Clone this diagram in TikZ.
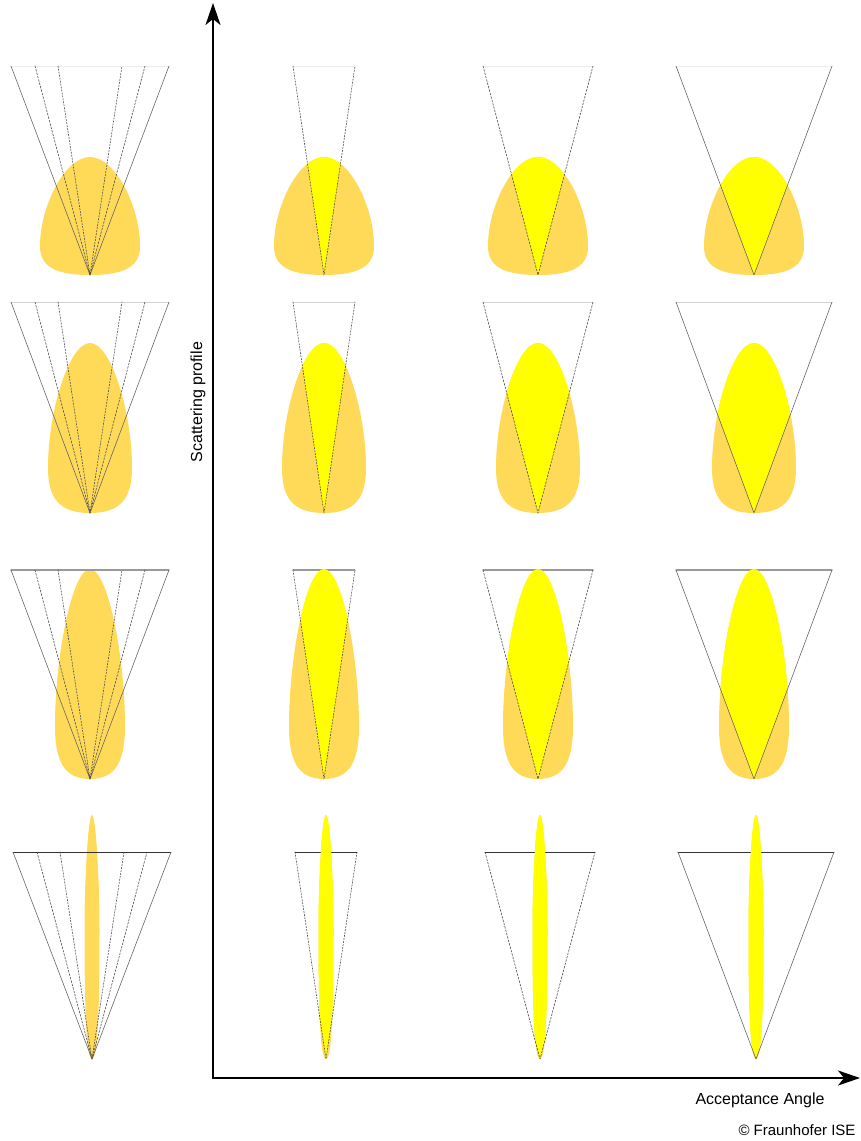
\documentclass[tikz,border=0pt]{standalone}
\usepackage{fontspec}
\setmainfont{Liberation Sans}
\usepackage{tikz}
\usetikzlibrary{arrows.meta}

\definecolor{lobeOrange}{RGB}{255,218,88}
\definecolor{lobeYellow}{RGB}{255,255,0}

% lobe outline, apex at origin, pointing up: #1 height, #2 half width, #3 height of widest point
\newcommand{\lobe}[3]{(0,0) .. controls ({0.75*#2},0) and (#2,{-0.35*#3}) .. (#2,-#3)
  .. controls (#2,{-#3-0.45*(#1-#3)}) and ({0.5*#2},-#1) .. (0,-#1)
  .. controls ({-0.5*#2},-#1) and (-#2,{-#3-0.45*(#1-#3)}) .. (-#2,-#3)
  .. controls (-#2,{-0.35*#3}) and ({-0.75*#2},0) .. cycle}

\begin{document}
\begin{tikzpicture}[x=1pt, y=-1pt, line cap=round, line join=round,
  lobe/.style={fill=lobeOrange},
  hit/.style={fill=lobeYellow},
  raySolid/.style={black!60, line width=0.6pt},
  rayDash/.style={black!70, line width=0.6pt, dash pattern=on 2pt off 1.5pt},
  rayDot/.style={black!70, line width=0.6pt, dash pattern=on 1.5pt off 1.5pt},
  rimA/.style={gray!15, line width=0.8pt},
  rimB/.style={gray!35, line width=0.8pt},
  rimC/.style={gray!80, line width=1.2pt},
  rimD/.style={black!80, line width=0.9pt},
  axis/.style={line width=2pt, -{Stealth[length=22pt, width=15pt, inset=6pt]}},
  lbl/.style={font=\fontsize{16}{19}\selectfont}]

  \useasboundingbox (0,0) rectangle (861,1141);

  % Rows: apex y, cone height, lobe height, lobe half width, widest point, rim style, shift
  \foreach \ay/\ch/\lh/\lw/\la/\rim/\dx in {275/209/118/50/29/rimA/0,
      513/211/170/42/45/rimB/0, 779/209/210/35/53/rimC/0, 1059/207/244/7.5/130/rimD/2}{

    % Reference column: lobe with all three cones
    \begin{scope}[shift={({90+\dx},\ay)}]
      \fill[lobe] \lobe{\lh}{\lw}{\la};
      \draw[\rim] (-79,-\ch) -- (79,-\ch);
      \draw[raySolid] (-79,-\ch) -- (0,0) -- (79,-\ch);
      \draw[rayDash]  (-55,-\ch) -- (0,0) -- (55,-\ch);
      \draw[rayDot]   (-32,-\ch) -- (0,0) -- (32,-\ch);
    \end{scope}

    % One cone per acceptance angle, accepted part in yellow
    \foreach \cx/\hw/\ray in {324/31/rayDot, 538/55/rayDash, 754/78/raySolid}{
      \begin{scope}[shift={({\cx+\dx},\ay)}]
        \draw[\rim] (-\hw,-\ch) -- (\hw,-\ch);
        \fill[lobe] \lobe{\lh}{\lw}{\la};
        \begin{scope}
          \clip (0,0) -- ({-2*\hw},{-2*\ch}) -- ({2*\hw},{-2*\ch}) -- cycle;
          \fill[hit] \lobe{\lh}{\lw}{\la};
        \end{scope}
        \draw[\ray] (-\hw,-\ch) -- (0,0) -- (\hw,-\ch);
      \end{scope}
    }
  }

  % Axes
  \coordinate (O)    at (213,1078);
  \coordinate (ytip) at (213,3);
  \coordinate (xtip) at (860,1078);
  \draw[axis] (O) -- (ytip);
  \draw[axis] (O) -- (xtip);

  \node[lbl, rotate=90] (ylab) at (198,402) {Scattering profile};
  \node[lbl] (xlab) at (760,1100) {Acceptance Angle};
  \node[font=\fontsize{15}{18}\selectfont] (copy) at (797,1130) {© Fraunhofer ISE};

\end{tikzpicture}
\end{document}
